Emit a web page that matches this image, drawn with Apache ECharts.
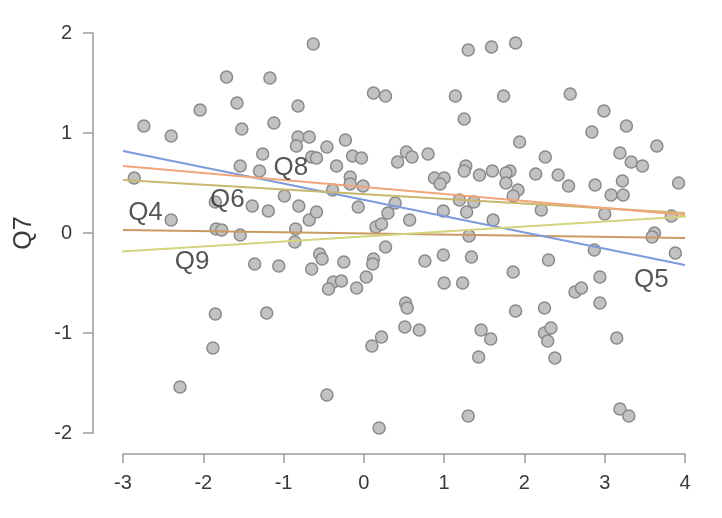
<!DOCTYPE html>
<html>
<head>
<meta charset="utf-8">
<title>Q7</title>
<script src="https://cdn.jsdelivr.net/npm/echarts@6/dist/echarts.min.js"></script>
<style>
    html, body {margin: 0; padding: 0; background: #ffffff;}
    #chartBox {width: 722px; height: 518px;}
</style>
</head>
<body>
<div id="chartBox"></div>
<script>
// 散点 (Q? , Q7)
var pointX = [
    -0.63, -1.71, -1.17, -1.58, -2.04, -0.82, -2.74, -2.40, -1.52, -1.12,
    -0.82, -0.68, -0.84, -1.26, -0.65, -0.59, -1.54, -1.30, -2.86, -0.99,
    -1.39, -1.19, -0.81, -0.68, -0.59, -2.40, -1.85, -1.84, -1.77, -1.54,
    -0.85, 1.30, 1.59, 1.89, 0.12, 0.27, 1.14, 1.74, 1.25, -0.23,
    -0.46, -0.14, -0.03, 0.42, 0.53, 0.60, 0.80, -0.34, -0.17, -0.17,
    -0.01, -0.39, 1.27, 1.25, 1.44, 1.60, 1.82, 1.77, 1.77, 0.88,
    1.00, 0.95, 0.39, 0.30, -0.07, 0.15, 0.22, 0.57, 0.99, 1.19,
    1.28, 1.37, 1.61, 1.31, 1.92, 1.94, 2.57, 2.99, 2.84, 3.27,
    3.65, 2.26, 3.19, 3.33, 3.47, 2.14, 2.42, 2.55, 2.88, 3.22,
    3.92, 3.08, 3.23, 1.86, 2.21, 3.00, 3.83, 3.62, 3.59, 2.87,
    3.88, 2.30, 1.86, 2.94, 2.63, 2.71, 1.89, 2.25, 2.94, 2.25,
    2.33, 2.29, 2.38, 3.15, 3.19, 3.30, 0.27, -0.55, -0.52, -0.65,
    -0.25, 0.12, 0.11, 0.76, 0.99, 1.34, -0.38, -0.44, -0.28, 0.03,
    -0.09, 1.00, 1.23, 0.52, 0.54, 0.51, 0.69, 0.22, 0.10, 1.46,
    1.58, 1.43, -0.46, 1.30, 0.19, -0.86, -1.36, -1.06, -1.85, -1.21,
    -1.88, -2.29
];
var pointY = [
    1.89, 1.56, 1.55, 1.30, 1.23, 1.27, 1.07, 0.97, 1.04, 1.10,
    0.96, 0.96, 0.87, 0.79, 0.76, 0.75, 0.67, 0.62, 0.55, 0.37,
    0.27, 0.22, 0.27, 0.13, 0.21, 0.13, 0.31, 0.04, 0.03, -0.02,
    0.04, 1.83, 1.86, 1.90, 1.40, 1.37, 1.37, 1.37, 1.14, 0.93,
    0.86, 0.77, 0.75, 0.71, 0.81, 0.76, 0.79, 0.67, 0.56, 0.49,
    0.47, 0.43, 0.67, 0.62, 0.58, 0.62, 0.62, 0.60, 0.50, 0.55,
    0.55, 0.49, 0.30, 0.20, 0.26, 0.06, 0.09, 0.13, 0.22, 0.33,
    0.21, 0.31, 0.13, -0.03, 0.43, 0.91, 1.39, 1.22, 1.01, 1.07,
    0.87, 0.76, 0.80, 0.71, 0.67, 0.59, 0.58, 0.47, 0.48, 0.52,
    0.50, 0.38, 0.38, 0.37, 0.23, 0.19, 0.17, 0.00, -0.04, -0.17,
    -0.20, -0.27, -0.39, -0.44, -0.59, -0.55, -0.78, -0.75, -0.70, -1.00,
    -0.95, -1.08, -1.25, -1.05, -1.76, -1.83, -0.14, -0.21, -0.26, -0.36,
    -0.29, -0.26, -0.31, -0.28, -0.22, -0.24, -0.49, -0.56, -0.48, -0.44,
    -0.55, -0.50, -0.50, -0.70, -0.75, -0.94, -0.97, -1.04, -1.13, -0.97,
    -1.06, -1.24, -1.62, -1.83, -1.95, -0.09, -0.31, -0.33, -0.81, -0.80,
    -1.15, -1.54
];

// 回归线
var lineNames = ['Q4', 'Q5', 'Q6', 'Q8', 'Q9'];
var lineStartX = [-3, -3, -3, -3, -3.1];
var lineEndX = [4, 4, 4, 4, 4.1];
var lineStartY = [0.03, 0.82, 0.53, 0.67, -0.19];
var lineEndY = [-0.05, -0.32, 0.20, 0.18, 0.17];
var lineColors = ['#c99a62', '#7d9bd9', '#c9b76e', '#f2a47a', '#d3d47e'];

// 线标注
var labelNames = ['Q8', 'Q6', 'Q4', 'Q9', 'Q5'];
var labelX = [-0.91, -1.70, -2.72, -2.14, 3.58];
var labelY = [0.65, 0.33, 0.20, -0.29, -0.47];

var xTicks = [-3, -2, -1, 0, 1, 2, 3, 4];
var yTicks = [-2, -1, 0, 1, 2];

(function(){
    var _chart,
        _font = 'Liberation Sans, Arial, sans-serif',
        _axisColor = '#9a9a9a';

    function getPoints(){
        var _list = [];
        for(var i = 0; i < pointX.length; i++){
            _list.push([pointX[i], pointY[i]]);
        }
        return _list;
    }

    function getLineSeries(){
        var _result = [];
        for(var i = 0; i < lineNames.length; i++){
            _result.push({
                name: lineNames[i],
                type: 'line',
                data: [[lineStartX[i], lineStartY[i]], [lineEndX[i], lineEndY[i]]],
                symbol: 'none',
                clip: false,
                z: 3,
                lineStyle: {
                    color: lineColors[i],
                    width: 2
                }
            });
        }
        return _result;
    }

    function getLabels(){
        var _list = [];
        for(var i = 0; i < labelNames.length; i++){
            _list.push({name: labelNames[i], value: [labelX[i], labelY[i]]});
        }
        return _list;
    }

    //获取参数
    function getParams(){
        var _series = [
            {
                name: 'points',
                type: 'scatter',
                data: getPoints(),
                symbolSize: 12,
                z: 2,
                itemStyle: {
                    color: '#c2c2c2',
                    borderColor: '#8a8a8a',
                    borderWidth: 1.5,
                    opacity: 1
                }
            }
        ].concat(getLineSeries());

        _series.push({
            name: 'labels',
            type: 'scatter',
            data: getLabels(),
            symbolSize: 0,
            z: 5,
            label: {
                show: true,
                position: 'inside',
                formatter: '{b}',
                fontSize: 26,
                color: '#2b2b2b',
                fontFamily: _font
            }
        });

        return {
            animation: false,
            backgroundColor: '#ffffff',
            grid: {
                left: 123,
                right: 37,
                top: 33,
                bottom: 85
            },
            xAxis: {
                type: 'value',
                min: -3,
                max: 4,
                interval: 1,
                offset: 21,
                splitLine: {show: false},
                axisLine: {show: true, onZero: false, lineStyle: {color: _axisColor, width: 1.5}},
                axisTick: {show: true, length: 9, lineStyle: {color: _axisColor, width: 1.5}},
                axisLabel: {
                    margin: 19,
                    fontSize: 20,
                    color: '#3a3a3a',
                    fontFamily: _font,
                    formatter: function(_v){ return xTicks.indexOf(_v) > -1 ? String(_v) : ''; }
                }
            },
            yAxis: {
                type: 'value',
                min: -2,
                max: 2,
                interval: 1,
                offset: 30,
                name: 'Q7',
                nameLocation: 'middle',
                nameGap: 56,
                nameRotate: 90,
                nameTextStyle: {
                    fontSize: 25,
                    color: '#3a3a3a',
                    fontFamily: _font
                },
                splitLine: {show: false},
                axisLine: {show: true, onZero: false, lineStyle: {color: _axisColor, width: 1.5}},
                axisTick: {show: true, length: 10, lineStyle: {color: _axisColor, width: 1.5}},
                axisLabel: {
                    margin: 21,
                    fontSize: 20,
                    color: '#3a3a3a',
                    fontFamily: _font,
                    formatter: function(_v){ return yTicks.indexOf(_v) > -1 ? String(_v) : ''; }
                }
            },
            series: _series
        };
    }

    //渲染图表
    function renderChartBox(){
        _chart = echarts.init(document.getElementById('chartBox'));
        _chart.setOption(getParams());
    }

    renderChartBox();
})();
</script>
</body>
</html>
